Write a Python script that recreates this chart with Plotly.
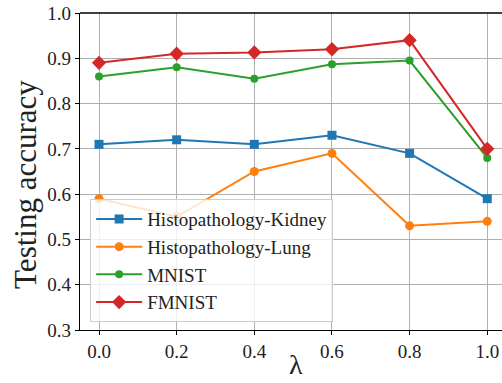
import plotly.graph_objects as go

# lambda values on the x axis
lam = [0.0, 0.2, 0.4, 0.6, 0.8, 1.0]

# testing accuracy per dataset
kidney = [0.71, 0.72, 0.71, 0.73, 0.69, 0.59]
lung = [0.59, 0.55, 0.65, 0.69, 0.53, 0.54]
mnist = [0.86, 0.88, 0.855, 0.887, 0.895, 0.68]
fmnist = [0.89, 0.91, 0.913, 0.92, 0.94, 0.70]

names = ["Histopathology-Kidney", "Histopathology-Lung", "MNIST", "FMNIST"]
series = [kidney, lung, mnist, fmnist]
colors = ["#1f77b4", "#ff7f0e", "#2ca02c", "#d62728"]
symbols = ["square", "circle", "circle", "diamond"]
msizes = [9, 9, 8, 11]

x_ticks = [0.0, 0.2, 0.4, 0.6, 0.8, 1.0]
y_ticks = [0.3, 0.4, 0.5, 0.6, 0.7, 0.8, 0.9, 1.0]

FONT = "Liberation Serif"

fig = go.Figure()
for name, ys, c, s, ms in zip(names, series, colors, symbols, msizes):
    fig.add_trace(go.Scatter(
        x=lam, y=ys, name=name, mode="lines+markers",
        line=dict(color=c, width=2),
        marker=dict(symbol=s, size=ms, color=c),
    ))

fig.update_layout(
    width=502, height=383,
    margin=dict(l=80, r=0, t=13, b=53),
    plot_bgcolor="white", paper_bgcolor="white",
    font=dict(family=FONT, size=19, color="#222"),
    showlegend=True,
    legend=dict(
        x=0.024, y=0.025, xanchor="left", yanchor="bottom",
        bgcolor="rgba(255,255,255,0.8)", bordercolor="#cccccc", borderwidth=1,
        font=dict(family=FONT, size=19, color="#222"),
        tracegroupgap=0, itemwidth=46,
    ),
    xaxis=dict(
        range=[-0.049, 1.038], tickvals=x_ticks,
        ticktext=[f"{v:.1f}" for v in x_ticks],
        tickfont=dict(family=FONT, size=19),
        showgrid=True, gridcolor="#b0b0b0", gridwidth=1,
        showline=True, linecolor="black", linewidth=1.3,
        ticks="outside", ticklen=4, tickcolor="black",
        zeroline=False,
    ),
    yaxis=dict(
        range=[0.3, 1.0], tickvals=y_ticks,
        ticktext=[f"{v:.1f}" for v in y_ticks],
        tickfont=dict(family=FONT, size=19),
        showgrid=True, gridcolor="#b0b0b0", gridwidth=1,
        showline=True, linecolor="black", linewidth=1.3,
        ticks="outside", ticklen=4, tickcolor="black",
        zeroline=False,
    ),
    shapes=[dict(type="line", xref="paper", yref="paper", x0=0, x1=1, y0=1, y1=1,
                 line=dict(color="black", width=1.3))],
    annotations=[
        dict(text="Testing accuracy", textangle=-90, xref="paper", yref="paper",
             x=-0.131, y=0.46, xanchor="center", yanchor="middle", showarrow=False,
             font=dict(family=FONT, size=31, color="#222")),
        dict(text="λ", xref="paper", yref="paper",
             x=0.511, y=-0.11, xanchor="center", yanchor="middle", showarrow=False,
             font=dict(family=FONT, size=28, color="#222")),
    ],
)

fig.write_html("out.html")
